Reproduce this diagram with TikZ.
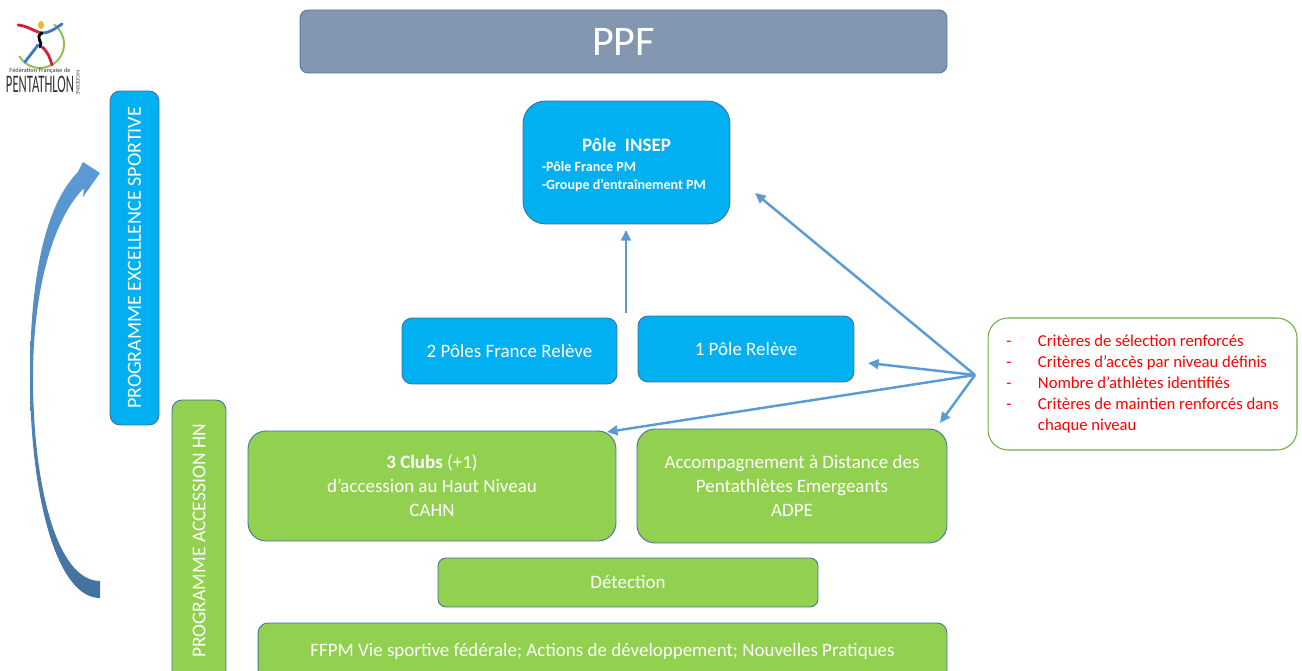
\documentclass[tikz,border=0pt]{standalone}
\usepackage{fontspec}
\setmainfont{Carlito}
\usetikzlibrary{calc}
\usetikzlibrary{arrows.meta}

\definecolor{ppfgrey}{HTML}{8497B0}
\definecolor{polecyan}{HTML}{00B0F0}
\definecolor{accgreen}{HTML}{92D050}
\definecolor{edgeblue}{HTML}{41719C}
\definecolor{linkblue}{HTML}{5B9BD5}
\definecolor{critgreen}{HTML}{70AD47}
\definecolor{arrowtop}{HTML}{5B9BD5}
\definecolor{arrowbot}{HTML}{44729F}
\definecolor{logogreen}{HTML}{8CC152}
\definecolor{logored}{HTML}{D0203A}
\definecolor{logoblue}{HTML}{3C78C8}
\definecolor{logoyellow}{HTML}{E8B830}

\begin{document}
\begin{tikzpicture}[x=0.02cm, y=-0.02cm,
    box/.style={draw=edgeblue, line width=0.5pt, text=white, align=center,
        inner sep=0pt, font=\fontsize{10.8}{13.6}\selectfont},
    bluebox/.style={box, fill=polecyan},
    greenbox/.style={box, fill=accgreen},
    link/.style={draw=linkblue, line width=1.4pt,
        -{Triangle[length=6pt,width=5.5pt]}}]

    \clip (0,0) rectangle (1302,671);

    % logo
    \draw[logogreen, line width=1.1pt] (40,44) ++(150:24) arc[start angle=150, end angle=-55, radius=24];
    \fill[logoyellow] (41,25) ellipse (3 and 4);
    \draw[logored, line width=1.6pt, line cap=round] (18,25) .. controls (28,26) and (35,32) .. (42,33);
    \draw[logoblue, line width=1.6pt, line cap=round] (42,33) .. controls (50,33) and (56,28) .. (62,24);
    \draw[black, line width=1.6pt, line cap=round] (42,33) .. controls (34,38) and (44,42) .. (40,47);
    \draw[logoblue, line width=1.6pt, line cap=round] (38,45) -- (25,62);
    \draw[logored, line width=1.6pt, line cap=round] (42,47) .. controls (48,52) and (50,58) .. (52,65);
    \node[font=\fontsize{3.6}{4}\selectfont, text=black!80, inner sep=0pt] (fedname) at (40,71) {Fédération Française de};
    \node[font=\fontsize{7.2}{7}\selectfont, text=black!80, inner sep=0pt, yscale=2, transform shape] (pentaname) at (40,84) {PENTATHLON};
    \node[font=\fontsize{3.2}{4}\selectfont, text=black!70, inner sep=0pt, rotate=-90] (modname) at (78,83) {MODERNE};

    % curved arrow
    \shade[top color=arrowtop, bottom color=arrowbot]
        (100,598) .. controls (55,598) and (30,490) .. (30,378)
        .. controls (30,262) and (50,200) .. (78,172)
        -- (83,162) -- (100,173) -- (83,197) -- (84,188)
        .. controls (56,216) and (33,282) .. (33,378)
        .. controls (33,482) and (56,581) .. (100,581) -- cycle;

    \node[box, fill=ppfgrey, draw=edgeblue!80!ppfgrey, minimum width=12.94cm, minimum height=1.26cm,
        rounded corners=0.16cm, font=\fontsize{24}{26}\selectfont] (ppf) at (623.5,41.5) {PPF};

    \node[bluebox, minimum width=4.14cm, minimum height=2.46cm, rounded corners=0.45cm] (insep) at (626.5,162.5)
        {\fontsize{8}{10.2}\selectfont\bfseries
        \begin{tabular}{@{\hspace{-3pt}}l@{}}\multicolumn{1}{@{}c@{}}{\rule{0pt}{12pt}\fontsize{10.8}{14}\selectfont Pôle\ \ INSEP}\\[1.5pt]
        -Pôle France PM\\
        -Groupe d’entraînement PM\end{tabular}};

    \node[bluebox, minimum width=4.3cm, minimum height=1.32cm, rounded corners=0.2cm] (francereleve) at (509.5,351) {2 Pôles France Relève};
    \node[bluebox, minimum width=4.32cm, minimum height=1.32cm, rounded corners=0.2cm] (polereleve) at (746,349) {1 Pôle Relève};

    \node[greenbox, minimum width=7.36cm, minimum height=2.2cm, rounded corners=0.36cm] (cahn) at (432,486)
        {\textbf{3 Clubs} (+1)\\ d’accession au Haut Niveau\\ CAHN};
    \node[greenbox, minimum width=6.2cm, minimum height=2.28cm, rounded corners=0.36cm] (adpe) at (792,486)
        {Accompagnement à Distance des\\ Pentathlètes Emergeants\\ ADPE};
    \node[greenbox, minimum width=7.6cm, minimum height=0.98cm, rounded corners=0.16cm] (detection) at (628,582.5) {Détection};
    \node[greenbox, minimum width=13.78cm, minimum height=1.14cm, rounded corners=0.2cm] (ffpm) at (602.5,651.5)
        {FFPM Vie sportive fédérale; Actions de développement; Nouvelles Pratiques};

    \node[bluebox, rotate=90, minimum width=6.68cm, minimum height=0.98cm, rounded corners=0.2cm,
        font=\fontsize{11.4}{13.6}\selectfont] (excellence) at (134.5,258)
        {PROGRAMME EXCELLENCE SPORTIVE};
    \node[greenbox, rotate=90, minimum width=5.64cm, minimum height=1.08cm, rounded corners=0.2cm,
        font=\fontsize{11.1}{13.6}\selectfont] (accession) at (199,541)
        {PROGRAMME ACCESSION HN};

    \node[draw=critgreen, line width=0.6pt, fill=white, text=red, minimum width=6.18cm, minimum height=2.64cm,
        rounded corners=0.4cm, inner sep=0pt] (criteres) at (1142.5,384)
        {\fontsize{9.5}{12}\selectfont\begin{tabular}{@{}p{18pt}@{}l@{}}
        - & Critères de sélection renforcés\\
        - & Critères d’accès par niveau définis\\
        - & Nombre d’athlètes identifiés\\
        - & Critères de maintien renforcés dans\\
          & chaque niveau
        \end{tabular}};

    \coordinate (hub) at (975,375);
    \coordinate (relfoot) at (626,313);
    \coordinate (insepfoot) at (626,230);
    \coordinate (insepside) at (755,193);
    \coordinate (releveside) at (868,363);
    \coordinate (cahncorner) at (607,432);
    \coordinate (adpecorner) at (940,423);

    \draw[link] (relfoot) -- (insepfoot);
    \draw[link] (hub) -- (insepside);
    \draw[link] (hub) -- (releveside);
    \draw[link] (hub) -- (cahncorner);
    \draw[link] (hub) -- (adpecorner);
\end{tikzpicture}
\end{document}
